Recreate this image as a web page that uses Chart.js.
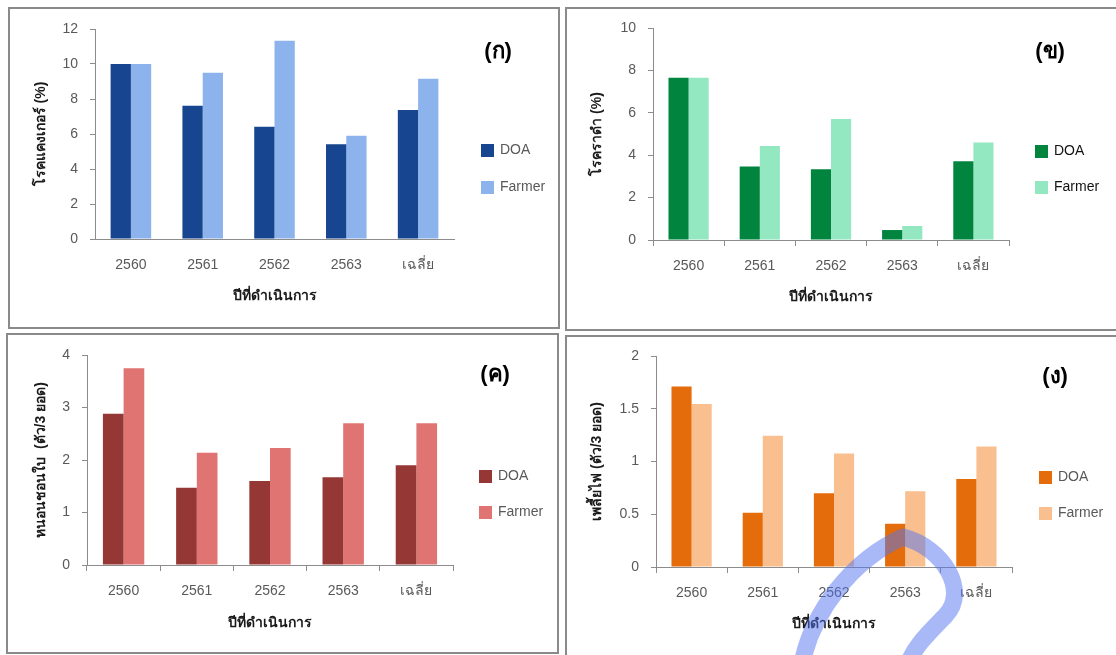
<!DOCTYPE html>
<html>
<head>
<meta charset="utf-8">
<script src="https://cdn.jsdelivr.net/npm/chart.js@4.4.1/dist/chart.umd.min.js"></script>
<style>
  html, body { margin: 0; padding: 0; background: #fff; }
  body { width: 1116px; height: 655px; overflow: hidden; position: relative; }
  .panel { position: absolute; border: 2px solid #8a8a8a; box-sizing: border-box; background: #fff; }
  canvas.layer { position: absolute; left: 0; top: 0; pointer-events: none; }
</style>
</head>
<body>
<div class="panel" style="left:8px;top:7px;width:552px;height:322px"></div>
<div class="panel" style="left:565px;top:7px;width:600px;height:324px"></div>
<div class="panel" style="left:6px;top:333px;width:553px;height:321px"></div>
<div class="panel" style="left:565px;top:335px;width:600px;height:400px"></div>

<script>
// Operating years and series names shared by all four charts
const years = ['2560', '2561', '2562', '2563', 'เฉลี่ย'];
const seriesNames = ['DOA', 'Farmer'];

// (ก) canker incidence, %
const cankerDOA = [10.0, 7.62, 6.42, 5.41, 7.37];
const cankerFarmer = [10.0, 9.5, 11.33, 5.9, 9.16];
// (ข) sooty mould incidence, %
const sootyDOA = [7.65, 3.47, 3.34, 0.47, 3.72];
const sootyFarmer = [7.65, 4.43, 5.71, 0.66, 4.6];
// (ค) leaf miner, insects per 3 shoots
const minerDOA = [2.88, 1.47, 1.6, 1.67, 1.9];
const minerFarmer = [3.75, 2.14, 2.23, 2.7, 2.7];
// (ง) thrips, insects per 3 shoots
const thripsDOA = [1.71, 0.515, 0.70, 0.41, 0.834];
const thripsFarmer = [1.545, 1.245, 1.077, 0.717, 1.143];

// Axis ranges and titles
const yMaxA = 12, yStepA = 2;
const yMaxB = 10, yStepB = 2;
const yMaxC = 4, yStepC = 1;
const yMaxD = 2, yStepD = 0.5;
const yTitleA = 'โรคแคงเกอร์ (%)';
const yTitleB = 'โรคราดำ (%)';
const yTitleC = 'หนอนชอนใบ  (ตัว/3 ยอด)';
const yTitleD = 'เพลี้ยไฟ (ตัว/3 ยอด)';
const xTitle = 'ปีที่ดำเนินการ';
const panelTags = ['(ก)', '(ข)', '(ค)', '(ง)'];

const FONT = "Tahoma, 'Liberation Sans', 'Noto Sans', 'DejaVu Sans', sans-serif";
const PAGE_W = 1116, PAGE_H = 655;
const Y_BOX = 70, X_BOX = 70;

// Legend swatches plus the panel tag, drawn on top of the plot
const sideLegend = {
  id: 'sideLegend',
  afterDraw(chart, args, o) {
    const ctx = chart.ctx;
    ctx.save();
    chart.data.datasets.forEach((ds, i) => {
      const top = o.y + i * o.gap;
      ctx.fillStyle = ds.backgroundColor;
      ctx.fillRect(o.x, top, 13, 13);
      ctx.fillStyle = o.color;
      ctx.font = o.weight + ' 14px ' + FONT;
      ctx.textBaseline = 'middle';
      ctx.textAlign = 'left';
      ctx.fillText(ds.label, o.x + 19, top + 6.5);
    });
    ctx.fillStyle = '#000';
    ctx.font = 'bold 22px ' + FONT;
    ctx.textAlign = 'center';
    ctx.textBaseline = 'middle';
    ctx.fillText(o.tag, o.tagX, o.tagY);
    ctx.restore();
  }
};

// Translucent blue logo stroke laid over the lower-right chart
const logoMark = {
  id: 'logoMark',
  afterDraw(chart, args, o) {
    if (!o.show) return;
    const ctx = chart.ctx;
    ctx.save();
    ctx.strokeStyle = 'rgba(83,115,239,0.5)';
    ctx.lineWidth = 17;
    ctx.lineCap = 'round';
    ctx.lineJoin = 'round';
    ctx.beginPath();
    ctx.moveTo(802, 664);
    ctx.bezierCurveTo(812, 612, 852, 560, 903, 537);
    ctx.bezierCurveTo(945, 548, 968, 592, 946, 615);
    ctx.bezierCurveTo(930, 632, 915, 645, 908, 664);
    ctx.stroke();
    ctx.restore();
  }
};

function makeChart(s) {
  const cv = document.createElement('canvas');
  cv.className = 'layer';
  cv.width = PAGE_W; cv.height = PAGE_H;
  cv.style.width = PAGE_W + 'px'; cv.style.height = PAGE_H + 'px';
  document.body.appendChild(cv);

  const lh = 14 * 1.2;
  const padL = s.area.l - Y_BOX;
  const padB = PAGE_H - s.area.b - X_BOX;

  return new Chart(cv, {
    type: 'bar',
    data: {
      labels: years,
      datasets: [
        { label: seriesNames[0], data: s.doa, backgroundColor: s.colors[0] },
        { label: seriesNames[1], data: s.farmer, backgroundColor: s.colors[1] }
      ]
    },
    options: {
      responsive: false,
      animation: false,
      devicePixelRatio: 1,
      categoryPercentage: 0.565,
      barPercentage: 1.0,
      layout: { padding: { left: padL, top: s.area.t, right: PAGE_W - s.area.r, bottom: padB } },
      plugins: {
        legend: { display: false },
        tooltip: { enabled: false },
        sideLegend: s.legend,
        logoMark: { show: !!s.logo }
      },
      scales: {
        x: {
          afterFit(sc) { sc.height = X_BOX; },
          grid: { display: true, drawOnChartArea: false, drawTicks: s.xTicks, tickLength: 6, color: '#8c8c8c', offset: true },
          border: { color: '#8c8c8c' },
          ticks: { color: '#595959', font: { family: FONT, size: 14 }, padding: s.xTicks ? 12 : 18 },
          title: {
            display: true, text: xTitle, color: '#1a1a1a',
            font: { family: FONT, size: 14, weight: 'bold' },
            padding: { top: 0, bottom: (s.area.b + X_BOX) - s.xTitleY - lh / 2 }
          }
        },
        y: {
          min: 0, max: s.yMax,
          afterFit(sc) { sc.width = Y_BOX; },
          grid: { display: true, drawOnChartArea: false, drawTicks: true, tickLength: 5, color: '#8c8c8c' },
          border: { color: '#8c8c8c' },
          ticks: {
            stepSize: s.yStep, color: '#595959', font: { family: FONT, size: 14 }, padding: 12,
            callback: (v) => String(Math.round(v * 100) / 100)
          },
          title: {
            display: true, text: s.yTitle, color: '#1a1a1a',
            font: { family: FONT, size: 14, weight: 'bold' },
            padding: { top: s.yTitleX - padL - lh / 2, bottom: 0 }
          }
        }
      }
    },
    plugins: [sideLegend, logoMark]
  });
}

makeChart({
  area: { l: 95, t: 29, r: 454, b: 239 }, yMax: yMaxA, yStep: yStepA,
  doa: cankerDOA, farmer: cankerFarmer, colors: ['#17458f', '#8db3ed'],
  yTitle: yTitleA, yTitleX: 41, xTitleY: 296, xTicks: false,
  legend: { x: 481, y: 144, gap: 37, color: '#595959', weight: 'normal', tag: panelTags[0], tagX: 498, tagY: 52 }
});
makeChart({
  area: { l: 653, t: 28, r: 1009, b: 240 }, yMax: yMaxB, yStep: yStepB,
  doa: sootyDOA, farmer: sootyFarmer, colors: ['#00843e', '#93e8c1'],
  yTitle: yTitleB, yTitleX: 597, xTitleY: 297, xTicks: true,
  legend: { x: 1035, y: 145, gap: 36, color: '#111', weight: 'normal', tag: panelTags[1], tagX: 1050, tagY: 52 }
});
makeChart({
  area: { l: 87, t: 355, r: 453, b: 565 }, yMax: yMaxC, yStep: yStepC,
  doa: minerDOA, farmer: minerFarmer, colors: ['#953735', '#e07472'],
  yTitle: yTitleC, yTitleX: 41, xTitleY: 623, xTicks: true,
  legend: { x: 479, y: 470, gap: 36, color: '#595959', weight: 'normal', tag: panelTags[2], tagX: 495, tagY: 375 }
});
makeChart({
  area: { l: 656, t: 356, r: 1012, b: 567 }, yMax: yMaxD, yStep: yStepD,
  doa: thripsDOA, farmer: thripsFarmer, colors: ['#e46c0a', '#f9bf8f'],
  yTitle: yTitleD, yTitleX: 597, xTitleY: 624, xTicks: true, logo: true,
  legend: { x: 1039, y: 471, gap: 36, color: '#595959', weight: 'normal', tag: panelTags[3], tagX: 1055, tagY: 377 }
});
</script>
</body>
</html>
